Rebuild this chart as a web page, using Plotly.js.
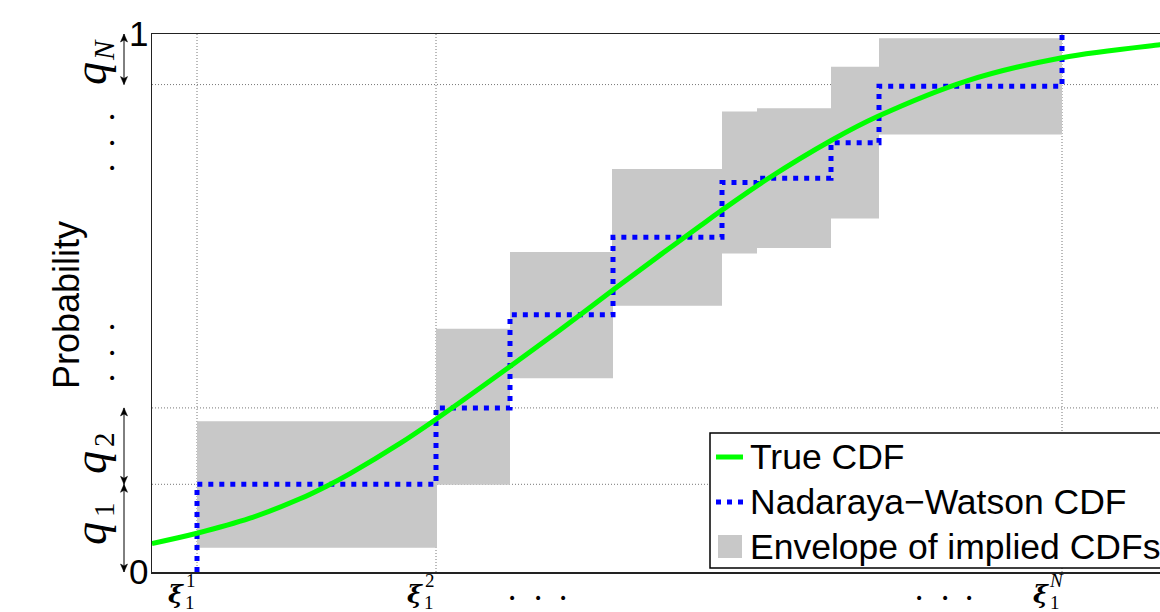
<!DOCTYPE html>
<html>
<head>
<meta charset="utf-8">
<script src="https://cdn.plot.ly/plotly-3.0.1.min.js"></script>
<style>
html,body{margin:0;padding:0;overflow:hidden;background:#fff;}
#chart{width:1180px;height:612px;}
</style>
</head>
<body>
<div id="chart"></div>
<script>
// ---- data ----
const curveX = [0, 0.45, 0.98, 1.48, 1.75, 1.98, 2.48, 2.84, 3.58, 4.08, 4.61, 5.08, 5.48, 5.68, 6.15, 6.80, 7.26, 8.15, 9.10, 10.08, 10.18];
const curveY = [0.053, 0.072, 0.100, 0.136, 0.160, 0.183, 0.239, 0.284, 0.382, 0.450, 0.524, 0.589, 0.643, 0.670, 0.730, 0.803, 0.847, 0.913, 0.956, 0.980, 0.982];

const nwX = [0.45, 0.45, 2.84, 3.58, 4.61, 5.70, 6.05, 6.79, 7.27, 9.10];
const nwY = [0.0, 0.163, 0.305, 0.478, 0.622, 0.724, 0.732, 0.798, 0.903, 1.0];

const envX0 = [0.45, 2.84, 3.58, 4.60, 5.70, 6.05, 6.79, 7.27];
const envX1 = [2.85, 3.58, 4.61, 5.70, 6.05, 6.79, 7.27, 9.10];
const envLo = [0.045, 0.162, 0.360, 0.495, 0.592, 0.602, 0.657, 0.813];
const envHi = [0.280, 0.452, 0.595, 0.749, 0.856, 0.862, 0.939, 0.992];

const xiPos = [0.45, 2.84, 9.10];
const xiSup = ['1', '2', 'N'];
const xiSupItalic = [false, false, true];
const yGridInner = [0.163, 0.305, 0.906];
const yTickVals = [0, 1];
const yTickText = ['0', '1'];
const qSub = ['1', '2', 'N'];
const qSubItalic = [false, false, true];
const qLo = [0, 0.163, 0.906];
const qHi = [0.163, 0.305, 1.0];

const seriesNames = ['True CDF', 'Nadaraya\u2212Watson CDF', 'Envelope of implied CDFs'];
const seriesColors = ['#00ff00', '#0000ff', '#c8c8c8'];

// ---- layout helpers ----
const W = 1180, H = 612, ML = 152, MR = 10, MT = 34, MB = 40;
const PW = W - ML - MR, PH = H - MT - MB;
const px = v => (v - ML) / PW;
const py = v => (H - MB - v) / PH;
const BLUE_DASH = '5px,6px';
const SERIF = 'Liberation Serif, DejaVu Serif, serif';
const SANS = 'Liberation Sans, Arial, sans-serif';

// envelope polygons (one trace, gaps separate the boxes)
const envXs = [], envYs = [];
envX0.forEach((x0, i) => {
  const x1 = envX1[i], lo = envLo[i], hi = envHi[i];
  envXs.push(x0, x1, x1, x0, x0, null);
  envYs.push(lo, lo, hi, hi, lo, null);
});

const traces = [
  {x: envXs, y: envYs, type: 'scatter', mode: 'lines', fill: 'toself', name: seriesNames[2],
   fillcolor: seriesColors[2], line: {width: 0, color: seriesColors[2]}, showlegend: false, hoverinfo: 'skip'},
  {x: nwX, y: nwY, type: 'scatter', mode: 'lines', name: seriesNames[1], showlegend: false,
   line: {shape: 'hv', color: seriesColors[1], width: 5, dash: BLUE_DASH}},
  {x: curveX, y: curveY, type: 'scatter', mode: 'lines', name: seriesNames[0], showlegend: false,
   line: {shape: 'spline', smoothing: 1, color: seriesColors[0], width: 5}}
];

const shapes = [];
const gridLine = {color: '#777', width: 1, dash: '1px,2px'};
xiPos.forEach(x => shapes.push({type: 'line', xref: 'x', yref: 'paper', x0: x, x1: x, y0: 0, y1: 1, line: gridLine, layer: 'below'}));
yGridInner.forEach(y => shapes.push({type: 'line', xref: 'paper', yref: 'y', x0: 0, x1: 1, y0: y, y1: y, line: gridLine, layer: 'below'}));

// q interval double arrows
qLo.forEach((lo, i) => {
  const hi = qHi[i];
  shapes.push({type: 'line', xref: 'paper', yref: 'y', x0: px(124), x1: px(124), y0: lo, y1: hi, line: {color: '#000', width: 1}});
  shapes.push({type: 'path', xref: 'paper', yref: 'y', xsizemode: 'pixel', ysizemode: 'pixel', xanchor: px(124), yanchor: hi,
    path: 'M0,0 L-3.5,-8 L0,-6 L3.5,-8 Z', fillcolor: '#000', line: {color: '#000', width: 0.5}});
  shapes.push({type: 'path', xref: 'paper', yref: 'y', xsizemode: 'pixel', ysizemode: 'pixel', xanchor: px(124), yanchor: lo,
    path: 'M0,0 L-3.5,8 L0,6 L3.5,8 Z', fillcolor: '#000', line: {color: '#000', width: 0.5}});
});

// legend (drawn box)
const LG = {l: 710, r: 1176, t: 433, b: 568, rows: [457, 502, 547], sx0: 716, sx1: 743, tx: 748};
shapes.push({type: 'rect', xref: 'paper', yref: 'paper', x0: px(LG.l), x1: px(LG.r), y0: py(LG.b), y1: py(LG.t),
  fillcolor: '#fff', line: {color: '#000', width: 1.5}, layer: 'above'});
shapes.push({type: 'line', xref: 'paper', yref: 'paper', x0: px(LG.sx0), x1: px(LG.sx1), y0: py(LG.rows[0]), y1: py(LG.rows[0]),
  line: {color: seriesColors[0], width: 5}, layer: 'above'});
shapes.push({type: 'line', xref: 'paper', yref: 'paper', x0: px(LG.sx0), x1: px(LG.sx1 + 1), y0: py(LG.rows[1]), y1: py(LG.rows[1]),
  line: {color: seriesColors[1], width: 5, dash: BLUE_DASH}, layer: 'above'});
shapes.push({type: 'rect', xref: 'paper', yref: 'paper', x0: px(718), x1: px(742), y0: py(LG.rows[2] + 11), y1: py(LG.rows[2] - 12),
  fillcolor: seriesColors[2], line: {width: 0}, layer: 'above'});

const ann = [];
seriesNames.forEach((n, i) => {
  ann.push({text: n, xref: 'paper', yref: 'paper', x: px(LG.tx), y: py(LG.rows[i]), showarrow: false,
    xanchor: 'left', yanchor: 'middle', font: {family: SANS, size: 35.5, color: '#000'}});
});
// y-axis title
ann.push({text: 'Probability', xref: 'paper', yref: 'paper', x: px(66), y: py(305), textangle: -90,
  showarrow: false, xanchor: 'center', yanchor: 'middle', font: {family: SANS, size: 36, color: '#000'}});
// xi labels (bold italic xi with sub/superscripts)
xiPos.forEach((x, i) => {
  ann.push({text: '\u03be', x: x, xref: 'x', yref: 'paper', y: py(594), xshift: -21, showarrow: false,
    xanchor: 'center', yanchor: 'middle', font: {family: 'DejaVu Serif, serif', size: 25, weight: 'bold', style: 'italic', color: '#000'}});
  ann.push({text: xiSup[i], x: x, xref: 'x', yref: 'paper', y: py(580), xshift: -6, showarrow: false,
    xanchor: 'center', yanchor: 'middle', font: {family: SERIF, size: 19, style: xiSupItalic[i] ? 'italic' : 'normal', color: '#000'}});
  ann.push({text: '1', x: x, xref: 'x', yref: 'paper', y: py(602), xshift: -7, showarrow: false, height: 17,
    xanchor: 'center', yanchor: 'middle', font: {family: SERIF, size: 19, color: '#000'}});
});
// dots
const dotsH = [[512, 598], [538, 598], [563, 598], [919, 598], [945, 598], [969, 598]];
const dotsV = [[112, 117], [112, 143], [112, 168], [112, 327], [112, 353], [112, 378]];
dotsH.concat(dotsV).forEach(d => {
  ann.push({text: '\u2022', xref: 'paper', yref: 'paper', x: px(d[0]), y: py(d[1]), showarrow: false,
    xanchor: 'center', yanchor: 'middle', font: {family: 'DejaVu Sans, sans-serif', size: 14, color: '#000'}});
});
// q labels (rotated), q glyph and subscript as separate texts
const qGlyphY = [534, 463, 74];
const qSubY = [510, 440, 50];
qSub.forEach((s, i) => {
  ann.push({text: 'q', xref: 'paper', yref: 'paper', x: px(90), y: py(qGlyphY[i]), textangle: -90, showarrow: false,
    xanchor: 'center', yanchor: 'middle', font: {family: SERIF, size: 46, style: 'italic', color: '#000'}});
  ann.push({text: s, xref: 'paper', yref: 'paper', x: px(104), y: py(qSubY[i]), textangle: -90, showarrow: false,
    xanchor: 'center', yanchor: 'middle', font: {family: SERIF, size: 29, style: qSubItalic[i] ? 'italic' : 'normal', color: '#000'}});
});

const layout = {
  width: W, height: H,
  margin: {l: ML, r: MR, t: MT, b: MB, pad: 0},
  paper_bgcolor: '#fff', plot_bgcolor: '#fff',
  font: {family: SANS, color: '#000'},
  showlegend: false,
  xaxis: {range: [0, PW / 100], showticklabels: false, ticks: '', showgrid: false,
    zeroline: false, showline: true, mirror: true, linecolor: '#222', linewidth: 1.5, fixedrange: true},
  yaxis: {range: [0, 1], tickvals: yTickVals, ticktext: yTickText, ticks: '', showgrid: false,
    zeroline: false, showline: true, mirror: true, linecolor: '#222', linewidth: 1.5,
    tickfont: {size: 35, color: '#000'}, ticklabelstandoff: -5, fixedrange: true},
  shapes: shapes,
  annotations: ann,
  hovermode: false
};

Plotly.newPlot('chart', traces, layout, {displayModeBar: false, staticPlot: true});
</script>
</body>
</html>
